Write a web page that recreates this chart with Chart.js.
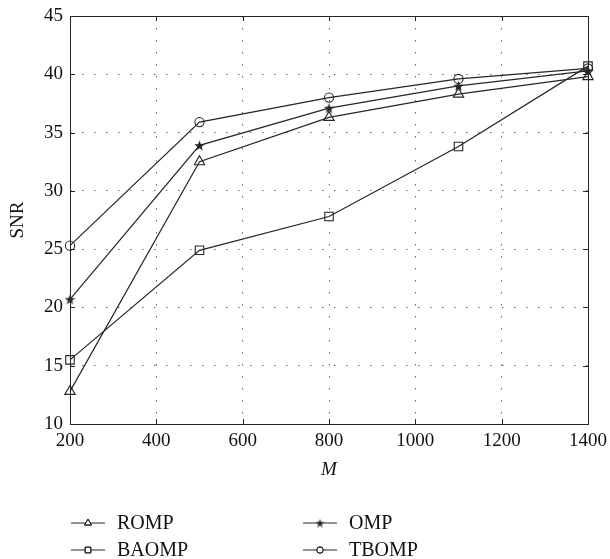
<!DOCTYPE html>
<html>
<head>
<meta charset="utf-8">
<script src="https://cdn.jsdelivr.net/npm/chart.js@4"></script>
<style>
  html, body { margin: 0; padding: 0; background: #fff; }
  #wrap { width: 610px; height: 559px; }
</style>
</head>
<body>
<div id="wrap"><canvas id="snrChart" width="610" height="559"></canvas></div>
<script>
// Data
const mValues = [200, 500, 800, 1100, 1400];
const rompSNR = [12.8, 32.5, 36.3, 38.3, 39.8];
const baompSNR = [15.5, 24.9, 27.8, 33.8, 40.7];
const ompSNR = [20.7, 33.9, 37.1, 39.0, 40.3];
const tbompSNR = [25.3, 35.9, 38.0, 39.6, 40.5];
const seriesNames = ['ROMP', 'BAOMP', 'OMP', 'TBOMP'];

const ink = '#262626';
const serif = "'Liberation Serif', 'DejaVu Serif', serif";

// filled five point star for OMP
const makeStar = (size) => {
  const c = document.createElement('canvas');
  c.width = size;
  c.height = size;
  const g = c.getContext('2d');
  const cx = size / 2, cy = size / 2 + 0.5;
  const outer = size / 2, inner = outer * 0.42;
  g.beginPath();
  for (let i = 0; i < 10; i++) {
    const r = i % 2 === 0 ? outer : inner;
    const a = -Math.PI / 2 + (i * Math.PI) / 5;
    const px = cx + r * Math.cos(a);
    const py = cy + r * Math.sin(a);
    if (i === 0) g.moveTo(px, py);
    else g.lineTo(px, py);
  }
  g.closePath();
  g.fillStyle = ink;
  g.fill();
  return c;
};
const bigStar = makeStar(11);
const smallStar = makeStar(9);

const toPoints = (ys) => mValues.map((m, i) => ({ x: m, y: ys[i] }));

const makeSet = (label, ys, style, radius) => ({
  label: label,
  data: toPoints(ys),
  borderColor: ink,
  backgroundColor: 'rgba(0,0,0,0)',
  borderWidth: 1.2,
  pointStyle: style,
  pointRadius: radius,
  pointBorderWidth: 1.1,
  pointBorderColor: ink,
  pointBackgroundColor: 'rgba(0,0,0,0)',
  tension: 0,
  clip: false,
});

const datasets = [
  makeSet(seriesNames[0], rompSNR, 'triangle', 6),
  makeSet(seriesNames[1], baompSNR, 'rect', 6),
  makeSet(seriesNames[2], ompSNR, bigStar, 5),
  makeSet(seriesNames[3], tbompSNR, 'circle', 4.6),
];

// box around the plot with inward tick marks (matlab style)
const boxPlugin = {
  id: 'boxTicks',
  afterDraw(chart) {
    const { ctx, chartArea: a, scales } = chart;
    ctx.save();
    ctx.strokeStyle = ink;
    ctx.lineWidth = 1;
    ctx.strokeRect(a.left + 0.5, a.top + 0.5, a.right - a.left, a.bottom - a.top);
    const len = 5;
    ctx.beginPath();
    scales.x.ticks.forEach((t) => {
      const px = Math.round(scales.x.getPixelForValue(t.value)) + 0.5;
      ctx.moveTo(px, a.bottom);
      ctx.lineTo(px, a.bottom - len);
      ctx.moveTo(px, a.top);
      ctx.lineTo(px, a.top + len);
    });
    scales.y.ticks.forEach((t) => {
      const py = Math.round(scales.y.getPixelForValue(t.value)) + 0.5;
      ctx.moveTo(a.left, py);
      ctx.lineTo(a.left + len, py);
      ctx.moveTo(a.right, py);
      ctx.lineTo(a.right - len, py);
    });
    ctx.stroke();
    ctx.restore();
  },
};

// legend below the axis title, two columns
const legendPlugin = {
  id: 'twoColLegend',
  afterDraw(chart) {
    const { ctx } = chart;
    const cols = [71, 303];
    const rows = [523, 550];
    const order = [0, 2, 1, 3]; // ROMP, OMP / BAOMP, TBOMP
    const marks = ['triangle', 'rect', smallStar, 'circle'];
    const radii = [4, 4, 4, 3.2];
    ctx.save();
    order.forEach((di, k) => {
      const x0 = cols[k % 2];
      const y0 = rows[Math.floor(k / 2)];
      ctx.strokeStyle = ink;
      ctx.lineWidth = 1.2;
      ctx.beginPath();
      ctx.moveTo(x0, y0);
      ctx.lineTo(x0 + 34, y0);
      ctx.stroke();
      ctx.fillStyle = '#fff';
      ctx.lineWidth = 1;
      Chart.helpers.drawPoint(ctx, {
        pointStyle: marks[di],
        radius: radii[di],
        rotation: 0,
        borderWidth: 1,
      }, x0 + 17, y0);
      if (typeof marks[di] === 'string') ctx.stroke();
      ctx.fillStyle = '#111';
      ctx.font = '20px ' + serif;
      ctx.textBaseline = 'middle';
      ctx.textAlign = 'left';
      ctx.fillText(seriesNames[di], x0 + 46, y0 + 1);
    });
    ctx.restore();
  },
};

const ctx = document.getElementById('snrChart').getContext('2d');

const snrChart = new Chart(ctx, {
  type: 'line',
  data: { datasets: datasets },
  plugins: [boxPlugin, legendPlugin],
  options: {
    responsive: false,
    animation: false,
    layout: {
      padding: { left: 0, right: 22, top: 16, bottom: 78 },
    },
    plugins: {
      legend: { display: false },
      tooltip: { enabled: false },
    },
    scales: {
      x: {
        type: 'linear',
        min: 200,
        max: 1400,
        afterFit: (scale) => {
          scale.height = 57;
          scale.paddingLeft = 0;
          scale.paddingRight = 0;
        },
        ticks: {
          stepSize: 200,
          padding: 6,
          maxRotation: 0,
          color: '#111',
          font: { family: serif, size: 19 },
          callback: (value) => String(value),
        },
        grid: {
          color: '#666',
          lineWidth: 1,
          drawTicks: false,
        },
        border: { display: false, dash: [1.5, 10.5] },
        title: {
          display: true,
          text: 'M',
          color: '#111',
          padding: { top: 0, bottom: 0 },
          font: { family: serif, size: 19, style: 'italic' },
        },
      },
      y: {
        min: 10,
        max: 45,
        afterFit: (scale) => {
          scale.width = 70;
          scale.paddingTop = 0;
          scale.paddingBottom = 0;
        },
        ticks: {
          stepSize: 5,
          padding: 7,
          color: '#111',
          font: { family: serif, size: 19 },
        },
        grid: {
          color: '#666',
          lineWidth: 1,
          drawTicks: false,
        },
        border: { display: false, dash: [1.5, 10.5] },
        title: {
          display: true,
          text: 'SNR',
          color: '#111',
          padding: { top: 7, bottom: 0 },
          font: { family: serif, size: 19 },
        },
      },
    },
  },
});
</script>
</body>
</html>
